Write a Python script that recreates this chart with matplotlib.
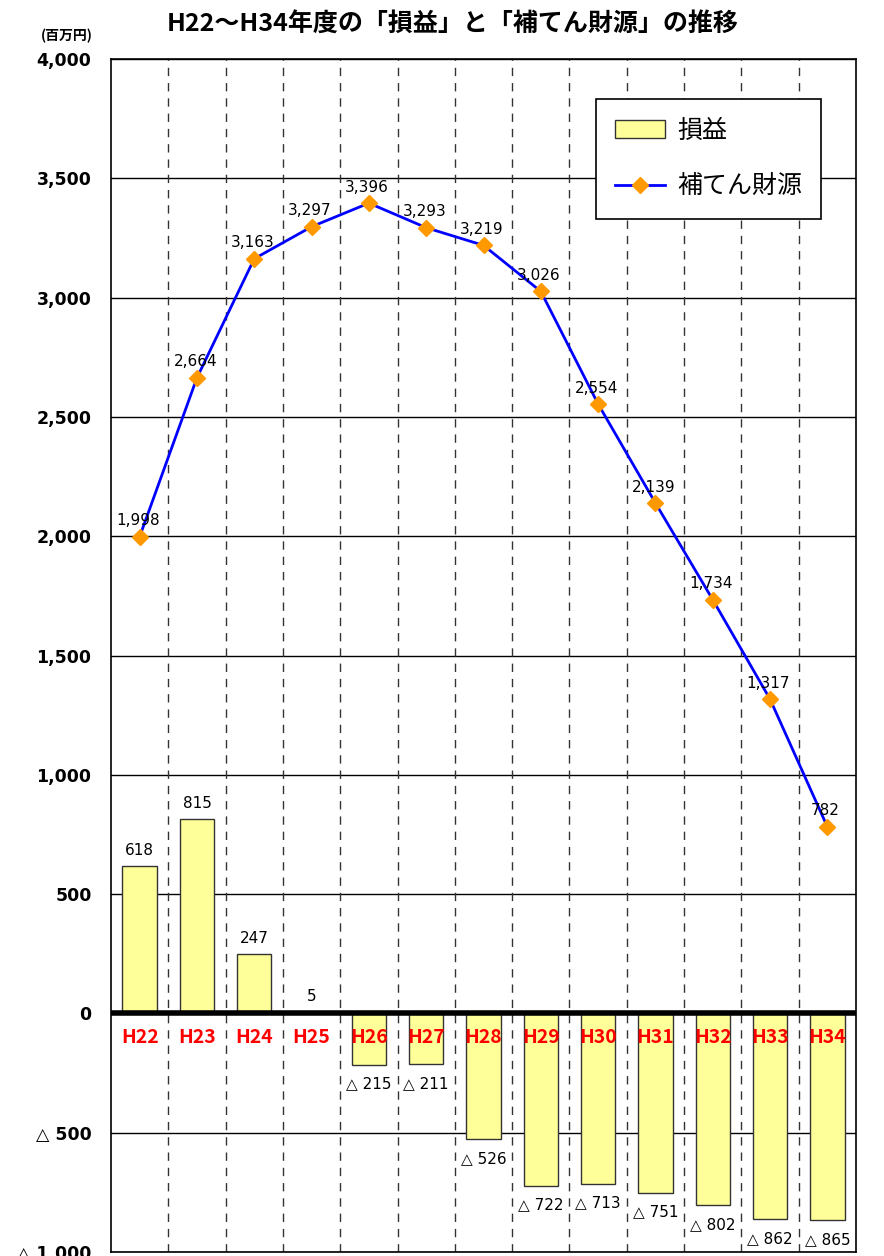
import matplotlib
matplotlib.use("Agg")
import matplotlib.pyplot as plt
import numpy as np
from matplotlib.ticker import FixedLocator, FuncFormatter

plt.rcParams['font.family'] = ['Noto Sans CJK JP', 'DejaVu Sans']
NUM = ['DejaVu Sans', 'Noto Sans CJK JP']

categories = ["H22", "H23", "H24", "H25", "H26", "H27", "H28", "H29", "H30", "H31", "H32", "H33", "H34"]
profit = [618, 815, 247, 5, -215, -211, -526, -722, -713, -751, -802, -862, -865]
reserve = [1998, 2664, 3163, 3297, 3396, 3293, 3219, 3026, 2554, 2139, 1734, 1317, 782]
yticks = [-1000, -500, 0, 500, 1000, 1500, 2000, 2500, 3000, 3500, 4000]

fig = plt.figure(figsize=(8.84, 12.56), dpi=100)
ax = fig.add_axes([111/884, 1-1252/1256, 745/884, (1252-59)/1256])

x = np.arange(len(categories))
bars = ax.bar(x, profit, width=0.6, color="#FFFF99", edgecolor="#333333", linewidth=1.0, zorder=3, label="損益")
line, = ax.plot(x, reserve, color="#0000FF", linewidth=2, marker="D", markersize=8,
                markerfacecolor="#FF9900", markeredgecolor="#FF9900", zorder=4, label="補てん財源")

ax.set_xlim(-0.5, len(categories) - 0.5)
ax.set_ylim(-1000, 4000)

# grid
for yv in yticks:
    if yv != 0:
        ax.axhline(yv, color="black", linewidth=1.0, zorder=1)
ax.axhline(0, color="black", linewidth=4, zorder=5)
for b in np.arange(0.5, len(categories) - 0.5, 1):
    ax.axvline(b, color="#333333", linewidth=1.0, linestyle=(0, (6, 5)), zorder=1)

def fmt(v, pos=None):
    v = int(round(v))
    if v < 0:
        return "△ {:,}".format(-v)
    return "{:,}".format(v)

ax.yaxis.set_major_locator(FixedLocator(yticks))
ax.yaxis.set_major_formatter(FuncFormatter(fmt))
ax.tick_params(axis='y', length=0, pad=14)
for lbl in ax.get_yticklabels():
    lbl.set_fontweight("bold")
    lbl.set_family(NUM)
    lbl.set_fontsize(12.5)
ax.set_xticks([])
for s in ax.spines.values():
    s.set_linewidth(1.2)

# category labels
for xi, c in zip(x, categories):
    ax.text(xi, -100, c, color="red", fontsize=14, fontweight="bold", ha="center", va="center", zorder=6)

# bar labels
for xi, v in zip(x, profit):
    if v >= 0:
        ax.text(xi, v + 35, "{:,}".format(v), fontsize=11, family=NUM, ha="center", va="bottom", zorder=6)
    else:
        ax.text(xi, v - 50, "△ {:,}".format(-v), fontsize=11, family=NUM, ha="center", va="top", zorder=6)

# line labels
for xi, v in zip(x, reserve):
    ax.text(xi - 0.03, v + 35, "{:,}".format(v), fontsize=11, family=NUM, ha="center", va="bottom", zorder=6)

leg = fig.legend(handles=[bars, line], loc="upper left", bbox_to_anchor=(596/884, 1-99/1256), fontsize=18,
                 frameon=True, fancybox=False, edgecolor="black", borderpad=0.75, labelspacing=1.2,
                 handlelength=2.0, handletextpad=0.5, borderaxespad=0, framealpha=1)
leg.get_frame().set_linewidth(1.2)

fig.text(453/884, 1-25/1256, "H22～H34年度の「損益」と「補てん財源」の推移", fontsize=18, fontweight="bold",
         ha="center", va="center")
fig.text(67/884, 1-36/1256, "(百万円)", fontsize=10, fontweight="bold", ha="center", va="center")

fig.savefig("out.png", dpi=100)
